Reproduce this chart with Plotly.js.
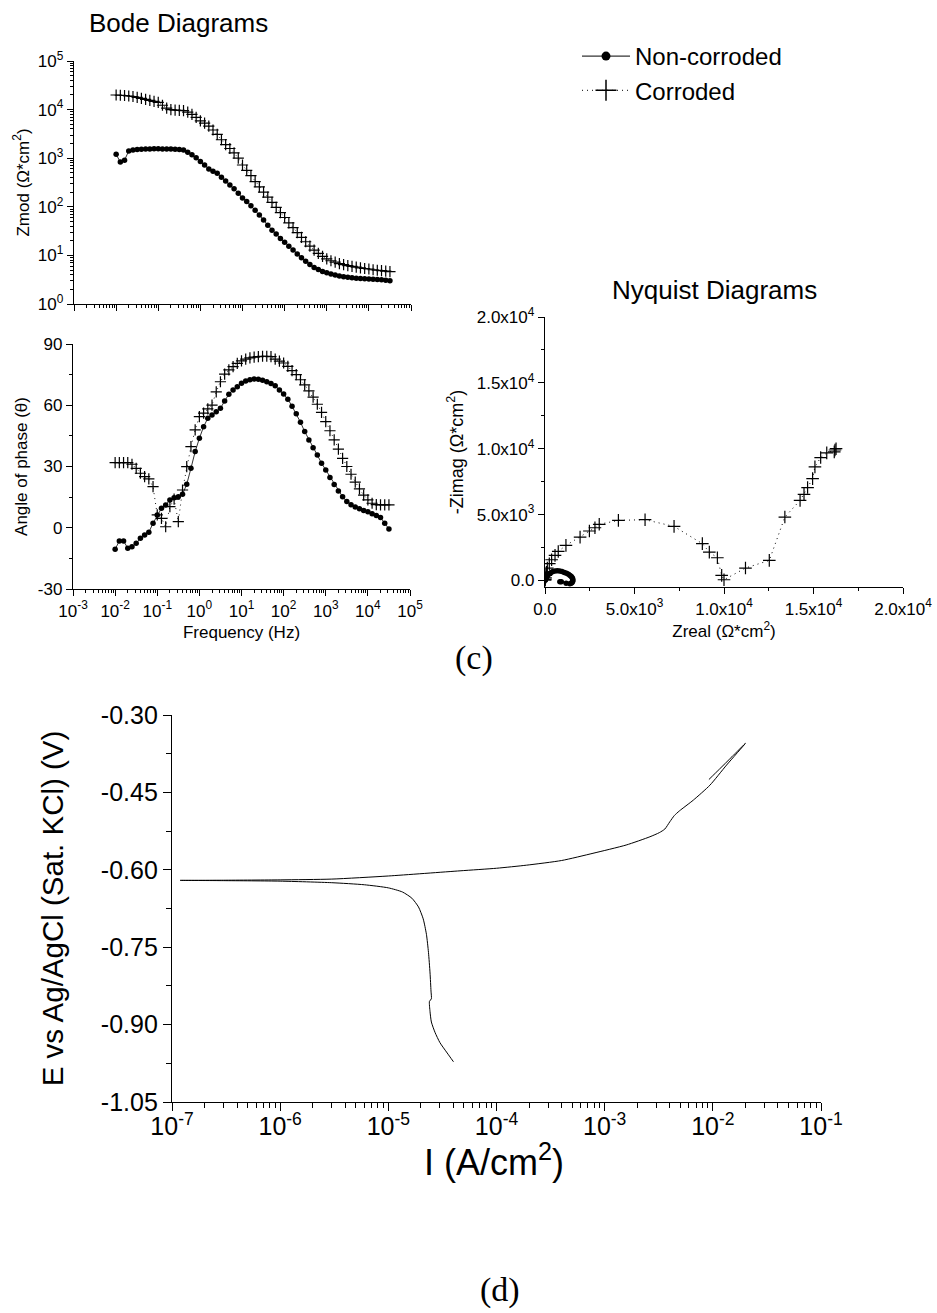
<!DOCTYPE html>
<html>
<head>
<meta charset="utf-8">
<script src="https://cdn.plot.ly/plotly-3.0.1.min.js"></script>
<style>
html,body{margin:0;padding:0;background:#fff;}
#chart{width:937px;height:1313px;}
</style>
</head>
<body>
<div id="chart"></div>
<script>
// ---------------- DATA ----------------
const seriesNames = ['Non-corroded', 'Corroded'];

// Bode: frequency (Hz)
const freq = [0.01, 0.01259, 0.01585, 0.01995, 0.02512, 0.03162, 0.03981, 0.05012, 0.0631, 0.07943,
  0.1, 0.1259, 0.1585, 0.1995, 0.2512, 0.3162, 0.3981, 0.5012, 0.631, 0.7943,
  1, 1.259, 1.585, 1.995, 2.512, 3.162, 3.981, 5.012, 6.31, 7.943,
  10, 12.59, 15.85, 19.95, 25.12, 31.62, 39.81, 50.12, 63.1, 79.43,
  100, 125.9, 158.5, 199.5, 251.2, 316.2, 398.1, 501.2, 631, 794.3,
  1000, 1259, 1585, 1995, 2512, 3162, 3981, 5012, 6310, 7943,
  10000, 12590, 15850, 19950, 25120, 31620];

// Zmod (ohm*cm2)
const zmodNonCorroded = [1202, 832, 912, 1413, 1479, 1514, 1531, 1549, 1549, 1567,
  1567, 1549, 1549, 1549, 1531, 1514, 1479, 1318, 1175, 1023,
  851, 724, 603, 537, 490, 407, 339, 282, 234, 191,
  151, 129, 105, 85.1, 67.6, 53.7, 41.7, 33.1, 27.5, 22.4,
  18.6, 15.5, 12.9, 10.7, 8.91, 7.59, 6.46, 5.62, 5.13, 4.68,
  4.37, 4.12, 3.94, 3.76, 3.63, 3.55, 3.47, 3.39, 3.35, 3.31,
  3.27, 3.24, 3.20, 3.16, 3.09, 3.02];
const zmodCorroded = [19953, 19724, 19498, 19055, 18621, 17783, 16982, 16218, 15488, 14791,
  14125, 12300, 10700, 10000, 9772, 9661, 9550, 8913, 7943, 6918,
  5888, 5248, 4571, 3802, 3090, 2399, 1905, 1585, 1288, 1000,
  724, 562, 437, 331, 257, 200, 158, 123, 97.7, 75.9,
  60.3, 46.8, 37.2, 29.5, 23.4, 19.1, 15.5, 12.9, 11.0, 9.55,
  8.51, 7.76, 7.24, 6.76, 6.46, 6.17, 5.96, 5.75, 5.56, 5.37,
  5.25, 5.07, 4.95, 4.84, 4.73, 4.62];

// Phase angle (deg)
const phaseNonCorroded = [-10.5, -6.5, -6.5, -10, -9.3, -7.6, -5.2, -3.5, -2.2, 2.2,
  6.2, 9.5, 11.2, 13.6, 14.7, 15.2, 16.4, 21.3, 29.1, 37.3,
  43.8, 49.5, 53.6, 55.2, 56.8, 58.5, 62.1, 65.4, 67.5, 69.1,
  70.8, 71.9, 72.5, 72.8, 72.7, 72.3, 71.5, 70.6, 69.6, 67.5,
  65.5, 63.0, 59.5, 55.8, 51.7, 47.1, 43.0, 39.2, 35.6, 31.6,
  28.3, 24.6, 21.2, 18.0, 15.2, 12.8, 11.3, 10.2, 9.3, 8.5,
  7.8, 6.9, 6.0, 5.0, 2.2, -0.6];
const phaseCorroded = [31.9, 31.9, 31.9, 31.9, 31.1, 29.1, 26.7, 25.0, 23.9, 20.1,
  6.3, 4.6, 0.5, 10.3, 14.0, 3.0, 18.5, 29.9, 39.7, 47.9,
  54.4, 56.1, 58.2, 60.1, 66.6, 71.5, 75.2, 77.3, 78.9, 80.5,
  81.7, 82.6, 83.2, 83.6, 83.8, 84.0, 84.0, 83.8, 82.6, 81.6,
  80.7, 79.0, 77.0, 75.0, 72.5, 70.0, 67.0, 64.0, 60.5, 56.5,
  52.0, 47.5, 43.0, 38.5, 34.0, 30.0, 26.2, 22.3, 19.0, 16.0,
  13.7, 12.0, 11.3, 11.2, 11.2, 11.2];

// Nyquist (ohm*cm2)
const zrealNonCorroded = [1180, 830, 910, 1390, 1460, 1510, 1540, 1555, 1550, 1520,
  1470, 1400, 1310, 1200, 1080, 950, 820, 690, 560, 440,
  340, 250, 180, 125, 85, 55, 35, 20, 10, 4];
const zimagNonCorroded = [-220, -95, -100, -245, -210, -150, -80, 0, 100, 200,
  290, 380, 460, 540, 610, 670, 710, 730, 720, 680,
  610, 520, 430, 340, 260, 190, 130, 75, 35, 10];
const zrealCorroded = [16260, 16160, 16200, 15740, 15400, 15080, 14950, 14670, 14470, 14250,
  13400, 12530, 11200, 10000, 9870, 9630, 9180, 8790, 7210, 5590,
  4100, 3030, 2790, 2480, 1960, 1170, 740, 560, 370, 240,
  130, 80, 50, 30, 15, 8];
const zimagCorroded = [10000, 9760, 9900, 9680, 9330, 8620, 7730, 7050, 6540, 6080,
  4810, 1520, 940, 50, 380, 1720, 2150, 2790, 4100, 4610,
  4560, 4260, 4000, 3750, 3290, 2660, 2200, 1900, 1570, 1270,
  940, 620, 380, 200, 80, 20];

// Polarization curve (cathodic end -> Ecorr -> anodic end -> short reverse)
const currentDensity = [4.0e-5, 3.5e-5, 3.0e-5, 2.7e-5, 2.5e-5, 2.43e-5, 2.40e-5, 2.50e-5, 2.48e-5, 2.43e-5,
  2.35e-5, 2.25e-5, 2.1e-5, 1.9e-5, 1.65e-5, 1.35e-5, 1.0e-5, 6.0e-6, 3.0e-6, 1.0e-6,
  3.0e-7, 1.19e-7,
  3.0e-7, 1.0e-6, 3.0e-6, 1.0e-5, 4.6e-5, 1.0e-4, 1.9e-4, 4.0e-4, 7.8e-4, 1.58e-3,
  2.62e-3, 3.2e-3, 3.6e-3, 4.0e-3, 4.4e-3, 4.9e-3, 6.6e-3, 9.4e-3, 1.34e-2, 2.0e-2,
  1.5e-2, 1.15e-2, 9.2e-3];
const potential = [-0.972, -0.955, -0.935, -0.915, -0.895, -0.875, -0.855, -0.850, -0.835, -0.800,
  -0.760, -0.725, -0.695, -0.672, -0.655, -0.643, -0.635, -0.629, -0.625, -0.622,
  -0.621, -0.6205,
  -0.6202, -0.6195, -0.618, -0.612, -0.602, -0.597, -0.591, -0.582, -0.568, -0.552,
  -0.536, -0.528, -0.521, -0.507, -0.495, -0.486, -0.465, -0.436, -0.397, -0.355,
  -0.381, -0.405, -0.425];

// Tick labels
const freqTickVals = [1e-3, 1e-2, 1e-1, 1, 10, 100, 1000, 1e4, 1e5];
const freqTickText = ['10<sup>-3</sup>', '10<sup>-2</sup>', '10<sup>-1</sup>', '10<sup>0</sup>', '10<sup>1</sup>',
  '10<sup>2</sup>', '10<sup>3</sup>', '10<sup>4</sup>', '10<sup>5</sup>'];
const zmodTickVals = [1, 10, 100, 1000, 1e4, 1e5];
const zmodTickText = ['10<sup>0</sup>', '10<sup>1</sup>', '10<sup>2</sup>', '10<sup>3</sup>', '10<sup>4</sup>', '10<sup>5</sup>'];
const phaseTickVals = [-30, 0, 30, 60, 90];
const phaseTickText = ['-30', '0', '30', '60', '90'];
const nyqTickVals = [0, 5000, 10000, 15000, 20000];
const nyqTickText = ['0.0', '5.0x10<sup>3</sup>', '1.0x10<sup>4</sup>', '1.5x10<sup>4</sup>', '2.0x10<sup>4</sup>'];
const potTickVals = [-1.05, -0.90, -0.75, -0.60, -0.45, -0.30];
const potTickText = ['-1.05', '-0.90', '-0.75', '-0.60', '-0.45', '-0.30'];
const curTickVals = [1e-7, 1e-6, 1e-5, 1e-4, 1e-3, 1e-2, 1e-1];
const curTickText = ['10<sup>-7</sup>', '10<sup>-6</sup>', '10<sup>-5</sup>', '10<sup>-4</sup>', '10<sup>-3</sup>', '10<sup>-2</sup>', '10<sup>-1</sup>'];

// ---------------- LAYOUT HELPERS ----------------
const W = 937, H = 1313;
const fx = p => p / W;
const fy = p => 1 - p / H;
const FONT = 'Liberation Sans, Arial, sans-serif';
const BLACK = '#000';
const DOTTED = '1px,4px';

function logMinor(lo, hi) {
  const v = [];
  for (let e = lo; e < hi; e++) for (let d = 2; d <= 9; d++) v.push(d * Math.pow(10, e));
  return v;
}
function linMinor(lo, hi, step) {
  const v = [];
  for (let t = lo; t <= hi + 1e-9; t += step) v.push(+t.toFixed(6));
  return v;
}

function axis(extra) {
  return Object.assign({
    showline: true, linecolor: BLACK, linewidth: 1.2,
    ticks: 'outside', tickcolor: BLACK, tickwidth: 1, ticklen: 6,
    showgrid: false, zeroline: false, mirror: false, automargin: false,
    tickfont: {family: FONT, size: 17, color: BLACK}
  }, extra);
}

const dotMarker = {symbol: 'circle', size: 5.5, color: BLACK};
const crossMarker = {symbol: 'cross-thin-open', size: 8, color: BLACK, line: {color: BLACK, width: 1.2}};

const traces = [
  // legend entries (no drawn points)
  {x: [null], y: [null], type: 'scatter', mode: 'lines+markers', name: seriesNames[0],
   line: {color: BLACK, width: 1}, marker: {symbol: 'circle', size: 9, color: BLACK},
   xaxis: 'x', yaxis: 'y', showlegend: true, hoverinfo: 'skip'},
  {x: [null], y: [null], type: 'scatter', mode: 'lines+markers', name: seriesNames[1],
   line: {color: BLACK, width: 1, dash: DOTTED},
   marker: {symbol: 'cross-thin-open', size: 15, color: BLACK, line: {color: BLACK, width: 1.5}},
   xaxis: 'x', yaxis: 'y', showlegend: true, hoverinfo: 'skip'},
  // Bode |Z|
  {x: freq, y: zmodNonCorroded, type: 'scatter', mode: 'lines+markers', name: seriesNames[0],
   line: {color: BLACK, width: 0.8}, marker: dotMarker, xaxis: 'x', yaxis: 'y', showlegend: false},
  {x: freq, y: zmodCorroded, type: 'scatter', mode: 'lines+markers', name: seriesNames[1],
   line: {color: BLACK, width: 0.8, dash: DOTTED}, marker: crossMarker, xaxis: 'x', yaxis: 'y', showlegend: false},
  // Bode phase
  {x: freq, y: phaseNonCorroded, type: 'scatter', mode: 'lines+markers', name: seriesNames[0],
   line: {color: BLACK, width: 0.8}, marker: dotMarker, xaxis: 'x2', yaxis: 'y2', showlegend: false},
  {x: freq, y: phaseCorroded, type: 'scatter', mode: 'lines+markers', name: seriesNames[1],
   line: {color: BLACK, width: 0.9, dash: DOTTED}, marker: crossMarker, xaxis: 'x2', yaxis: 'y2', showlegend: false},
  // Nyquist
  {x: zrealNonCorroded, y: zimagNonCorroded, type: 'scatter', mode: 'lines+markers', name: seriesNames[0],
   line: {color: BLACK, width: 0.8}, marker: dotMarker, xaxis: 'x3', yaxis: 'y3', showlegend: false},
  {x: zrealCorroded, y: zimagCorroded, type: 'scatter', mode: 'lines+markers', name: seriesNames[1],
   line: {color: BLACK, width: 1, dash: DOTTED},
   marker: {symbol: 'cross-thin-open', size: 9, color: BLACK, line: {color: BLACK, width: 1.2}},
   xaxis: 'x3', yaxis: 'y3', showlegend: false},
  // Polarization
  {x: currentDensity, y: potential, type: 'scatter', mode: 'lines', name: 'Polarization',
   line: {color: BLACK, width: 1, shape: 'spline', smoothing: 0.6}, xaxis: 'x4', yaxis: 'y4', showlegend: false}
];

const titleFont = s => ({family: FONT, size: s, color: BLACK});

const layout = {
  width: W, height: H,
  margin: {l: 0, r: 0, t: 0, b: 0},
  paper_bgcolor: '#fff', plot_bgcolor: 'rgba(0,0,0,0)',
  font: {family: FONT, color: BLACK},
  showlegend: true,
  legend: {x: fx(577), y: fy(34), xanchor: 'left', yanchor: 'top',
    font: {family: FONT, size: 24, color: BLACK}, bgcolor: 'rgba(0,0,0,0)',
    borderwidth: 0, itemwidth: 48, tracegroupgap: 0},
  xaxis: axis({domain: [fx(74), fx(411)], anchor: 'y', type: 'log', range: [-3, 5],
    tickmode: 'array', tickvals: freqTickVals, ticktext: freqTickText, showticklabels: false,
    minor: {tickmode: 'array', tickvals: logMinor(-3, 5), ticks: 'outside', ticklen: 3, tickcolor: BLACK}}),
  yaxis: axis({domain: [fy(304), fy(61)], anchor: 'x', type: 'log', range: [0, 5],
    tickmode: 'array', tickvals: zmodTickVals, ticktext: zmodTickText,
    minor: {tickmode: 'array', tickvals: logMinor(0, 5), ticks: 'outside', ticklen: 3, tickcolor: BLACK},
    title: {text: 'Zmod (Ω*cm<sup>2</sup>)', font: titleFont(17), standoff: 4}}),
  xaxis2: axis({domain: [fx(73), fx(410)], anchor: 'y2', type: 'log', range: [-3, 5],
    tickmode: 'array', tickvals: freqTickVals, ticktext: freqTickText,
    minor: {tickmode: 'array', tickvals: logMinor(-3, 5), ticks: 'outside', ticklen: 3, tickcolor: BLACK},
    title: {text: 'Frequency (Hz)', font: titleFont(17), standoff: 6}}),
  yaxis2: axis({domain: [fy(589), fy(344)], anchor: 'x2', range: [-30, 90],
    tickmode: 'array', tickvals: phaseTickVals, ticktext: phaseTickText,
    minor: {tickmode: 'array', tickvals: linMinor(-15, 75, 30), ticks: 'outside', ticklen: 3, tickcolor: BLACK},
    title: {text: 'Angle of phase (θ)', font: titleFont(17), standoff: 5}}),
  xaxis3: axis({domain: [fx(545), fx(903)], anchor: 'y3', range: [0, 20000],
    tickmode: 'array', tickvals: nyqTickVals, ticktext: nyqTickText,
    minor: {tickmode: 'array', tickvals: [2500, 7500, 12500, 17500], ticks: 'outside', ticklen: 3, tickcolor: BLACK},
    title: {text: 'Zreal (Ω*cm<sup>2</sup>)', font: titleFont(17), standoff: 6}}),
  yaxis3: axis({domain: [fy(587), fy(317)], anchor: 'x3', range: [-500, 20000],
    tickmode: 'array', tickvals: nyqTickVals, ticktext: nyqTickText,
    minor: {tickmode: 'array', tickvals: [2500, 7500, 12500, 17500], ticks: 'outside', ticklen: 3, tickcolor: BLACK},
    title: {text: '-Zimag (Ω*cm<sup>2</sup>)', font: titleFont(18), standoff: 8}}),
  xaxis4: axis({domain: [fx(172), fx(821)], anchor: 'y4', type: 'log', range: [-7, -1],
    tickmode: 'array', tickvals: curTickVals, ticktext: curTickText, ticklen: 8, ticklabelstandoff: -6,
    tickfont: {family: FONT, size: 25, color: BLACK},
    minor: {tickmode: 'array', tickvals: logMinor(-7, -1), ticks: 'outside', ticklen: 5, tickcolor: BLACK}}),
  yaxis4: axis({domain: [fy(1102), fy(715)], anchor: 'x4', range: [-1.05, -0.30],
    tickmode: 'array', tickvals: potTickVals, ticktext: potTickText, ticklen: 8,
    tickfont: {family: FONT, size: 25, color: BLACK},
    minor: {tickmode: 'array', tickvals: linMinor(-0.975, -0.375, 0.15), ticks: 'outside', ticklen: 5, tickcolor: BLACK},
    title: {text: 'E vs Ag/AgCl (Sat. KCl) (V)', font: titleFont(29.5), standoff: 28}}),
  annotations: [
    {text: 'Bode Diagrams', x: fx(178), y: fy(23), xref: 'paper', yref: 'paper', showarrow: false,
     xanchor: 'center', yanchor: 'middle', font: titleFont(26)},
    {text: 'Nyquist Diagrams', x: fx(714), y: fy(290), xref: 'paper', yref: 'paper', showarrow: false,
     xanchor: 'center', yanchor: 'middle', font: titleFont(26)},
    {text: 'I (A/cm<sup>2</sup>)', x: fx(494), y: fy(1160), xref: 'paper', yref: 'paper', showarrow: false,
     xanchor: 'center', yanchor: 'middle', font: titleFont(36)},
    {text: '(c)', x: fx(474), y: fy(658), xref: 'paper', yref: 'paper', showarrow: false,
     xanchor: 'center', yanchor: 'middle', font: {family: 'Liberation Serif, Times New Roman, serif', size: 34, color: BLACK}},
    {text: '(d)', x: fx(500), y: fy(1290), xref: 'paper', yref: 'paper', showarrow: false,
     xanchor: 'center', yanchor: 'middle', font: {family: 'Liberation Serif, Times New Roman, serif', size: 34, color: BLACK}}
  ]
};

Plotly.newPlot('chart', traces, layout, {staticPlot: true, displayModeBar: false});
</script>
</body>
</html>
